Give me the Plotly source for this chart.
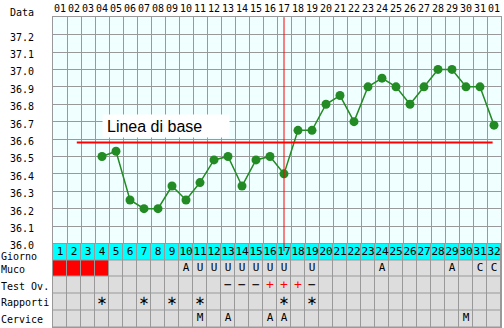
import plotly.graph_objects as go

# ---------------- data ----------------
days = list(range(1, 33))
date_labels = [f"{d:02d}" for d in range(1, 32)] + ["01"]
temps = [None, None, None, 36.50, 36.53, 36.25, 36.20, 36.20, 36.33, 36.25,
         36.35, 36.48, 36.50, 36.33, 36.48, 36.50, 36.40, 36.65, 36.65, 36.80,
         36.85, 36.70, 36.90, 36.95, 36.90, 36.80, 36.90, 37.00, 37.00, 36.90,
         36.90, 36.68]
temp_ticks = [36.0, 36.1, 36.2, 36.3, 36.4, 36.5, 36.6, 36.7, 36.8, 36.9,
              37.0, 37.1, 37.2]
baseline_value = 36.58
baseline_span = [2.2, 31.9]
baseline_label = "Linea di base"
ovulation_day = 17
row_labels = ["Giorno", "Muco", "Test Ov.", "Rapporti", "Cervice"]
menstruation_days = [1, 2, 3, 4]
muco = ["", "", "", "", "", "", "", "", "", "A", "U", "U", "U", "U", "U", "U",
        "U", "", "U", "", "", "", "", "A", "", "", "", "", "A", "", "C", "C"]
test_ov = ["", "", "", "", "", "", "", "", "", "", "", "", "-", "-", "-", "+",
           "+", "+", "-", "", "", "", "", "", "", "", "", "", "", "", "", ""]
rapporti = ["", "", "", "*", "", "", "*", "", "*", "", "*", "", "", "", "", "",
            "*", "", "*", "", "", "", "", "", "", "", "", "", "", "", "", ""]
cervice = ["", "", "", "", "", "", "", "", "", "", "M", "", "A", "", "", "A",
           "A", "", "", "", "", "", "", "", "", "", "", "", "", "M", "", ""]

# ---------------- style ----------------
W, H = 504, 328
GRID = "#999999"
GREEN = "#238b23"
MONO = "DejaVu Sans Mono"
XL, XR = 53 / W, 501 / W
YT, YB, TB = 1 - 17.2 / H, 1 - 243.5 / H, 1 - 327 / H

fig = go.Figure()

# temperature line
fig.add_trace(go.Scatter(
    x=days, y=temps, mode="lines+markers", xaxis="x", yaxis="y",
    line=dict(color=GREEN, width=1.5),
    marker=dict(color=GREEN, size=9, symbol="circle"),
    connectgaps=False, hoverinfo="skip"))

# baseline
fig.add_trace(go.Scatter(
    x=baseline_span, y=[baseline_value, baseline_value], mode="lines",
    xaxis="x", yaxis="y", line=dict(color="#ff0000", width=2), hoverinfo="skip"))

# table cells
z = []
for r in range(len(row_labels)):
    row = []
    for d in days:
        if r == 0:
            row.append(2)
        elif r == 1 and d in menstruation_days:
            row.append(1)
        else:
            row.append(0)
    z.append(row)

fig.add_trace(go.Heatmap(
    x=days, y=list(range(len(row_labels))), z=z, xaxis="x2", yaxis="y2",
    zmin=0, zmax=2, showscale=False, xgap=1, ygap=1, hoverinfo="skip",
    colorscale=[[0, "#dddddd"], [0.33, "#dddddd"], [0.33, "#ff0000"],
                [0.67, "#ff0000"], [0.67, "#00ffff"], [1, "#00ffff"]]))

# day numbers in Giorno row
fig.add_trace(go.Scatter(
    x=days, y=[0] * len(days), text=[str(d) for d in days], mode="text",
    xaxis="x2", yaxis="y2", textfont=dict(family=MONO, size=11, color="black"),
    hoverinfo="skip"))

# letters / signs in other rows
sx, sy, st, sc, ss = [], [], [], [], []
ax_, ay_ = [], []
for r, vals in enumerate([muco, test_ov, rapporti, cervice], start=1):
    for d, v in zip(days, vals):
        if v == "*":
            ax_.append(d)
            ay_.append(r)
        elif v:
            sx.append(d)
            sy.append(r)
            st.append("\u2212" if v == "-" else v)
            sc.append("#ff0000" if v == "+" else "black")
            ss.append(13 if v in "+-" else 11)
fig.add_trace(go.Scatter(
    x=sx, y=sy, text=st, mode="text", xaxis="x2", yaxis="y2",
    textfont=dict(family=MONO, size=ss, color=sc), hoverinfo="skip"))
# asterisks (Rapporti)
fig.add_trace(go.Scatter(
    x=ax_, y=ay_, text=["\u2217"] * len(ax_), mode="text", xaxis="x2", yaxis="y2",
    textfont=dict(family="DejaVu Sans", size=13, color="black"), hoverinfo="skip"))

annotations = [
    dict(text="Data", xref="paper", yref="paper", x=36 / W, y=1 - 12 / H,
         xanchor="right", yanchor="middle", showarrow=False,
         font=dict(family=MONO, size=10, color="black")),
    dict(text=baseline_label, xref="x", yref="y", x=4.0, y=36.676,
         xanchor="left", yanchor="middle", showarrow=False, align="left",
         width=118, height=14, borderpad=4, bgcolor="white",
         font=dict(family="Liberation Sans", size=16, color="black")),
]
for t in temp_ticks:
    annotations.append(dict(
        text=f"{t:.1f}", xref="paper", yref="y", x=36 / W, y=t,
        yshift=-1.5 if t == temp_ticks[0] else -2.5,
        xanchor="right", yanchor="middle", showarrow=False,
        font=dict(family=MONO, size=10, color="black")))
for r, lab in enumerate(row_labels):
    annotations.append(dict(
        text=lab, xref="paper", yref="y2", x=-1 / W, y=r,
        yshift=-4.5 if r == 0 else -1,
        xanchor="left", yanchor="middle", showarrow=False,
        font=dict(family=MONO, size=10, color="black")))

fig.update_layout(
    template="none",
    width=W, height=H, margin=dict(l=0, r=0, t=0, b=0, pad=0),
    paper_bgcolor="white", plot_bgcolor="#f0ffff", showlegend=False,
    xaxis=dict(domain=[XL, XR], range=[0.5, 32.5], anchor="y", side="top",
               tickmode="array", tickvals=days, ticktext=date_labels,
               tickangle=0, automargin=False,
               tickfont=dict(family=MONO, size=10, color="black"),
               ticks="", showgrid=False, zeroline=False,
               minor=dict(tickmode="array", tickvals=[d - 0.5 for d in days] + [32.5],
                          showgrid=True, gridcolor=GRID, gridwidth=1, ticks=""),
               showline=True, mirror=True, linecolor=GRID, linewidth=1,
               fixedrange=True),
    yaxis=dict(domain=[YB, YT], range=[36.0, 37.3], anchor="x",
               tickmode="array", tickvals=temp_ticks, showticklabels=False,
               automargin=False,
               ticks="", showgrid=True, gridcolor=GRID, gridwidth=1,
               zeroline=False, showline=True, mirror=True, linecolor=GRID,
               fixedrange=True),
    xaxis2=dict(domain=[XL, XR], range=[0.5, 32.5], anchor="y2", automargin=False,
                showticklabels=False, ticks="", showgrid=False, zeroline=False,
                showline=True, mirror=True, linecolor=GRID, fixedrange=True),
    yaxis2=dict(domain=[TB, YB], range=[len(row_labels) - 0.5, -0.5], anchor="x2",
                automargin=False,
                showticklabels=False, ticks="", showgrid=False, zeroline=False,
                showline=True, mirror=True, linecolor=GRID, fixedrange=True),
    annotations=annotations,
    shapes=[
        dict(type="rect", xref="x2 domain", yref="y2 domain", x0=0, x1=1,
             y0=0, y1=1, fillcolor=GRID, line=dict(width=0), layer="below"),
        dict(type="line", xref="x", yref="paper", x0=ovulation_day,
             x1=ovulation_day, y0=1 - 251 / H, y1=YT,
             line=dict(color="#ff0000", width=1), layer="above"),
    ],
)

fig.write_html("out.html")
